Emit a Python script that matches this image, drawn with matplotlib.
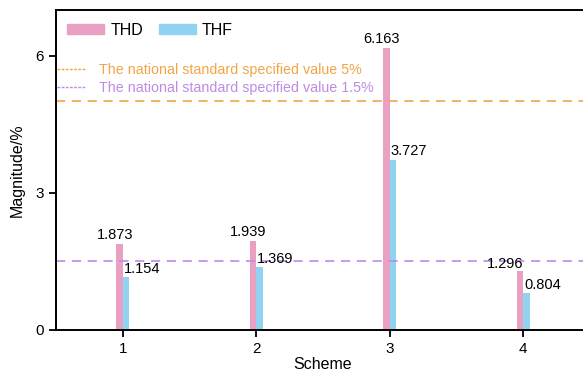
import matplotlib
matplotlib.use("Agg")
import matplotlib.pyplot as plt
import numpy as np
from matplotlib.patches import Patch
from matplotlib.lines import Line2D

plt.rcParams['font.family'] = ['Liberation Sans', 'DejaVu Sans']

schemes = [1, 2, 3, 4]
thd = [1.873, 1.939, 6.163, 1.296]
thf = [1.154, 1.369, 3.727, 0.804]
limit_thd = 5.0
limit_thf = 1.5

c_thd = '#E9A0C2'
c_thf = '#8FD3F0'
c_orange = '#F3A446'
c_purple = '#BE8CE3'

fig = plt.figure(figsize=(5.83, 3.72), dpi=100)
ax = fig.add_axes([0.096, 0.113, 0.916, 0.86])

x = np.array(schemes, dtype=float)
w = 0.05
ax.bar(x - w / 2, thd, width=w, color=c_thd)
ax.bar(x + w / 2, thf, width=w, color=c_thf)

ax.axhline(limit_thd, color=c_orange, ls=(0, (5.5, 4)), lw=1.2)
ax.axhline(limit_thf, color=c_purple, ls=(0, (5.5, 4)), lw=1.2)

# value labels
for i, (xi, v) in enumerate(zip(x, thd)):
    if i == 3:
        ax.text(xi, v, f'{v:.3f}', ha='right', va='bottom', fontsize=10.5)
    else:
        ax.text(xi - 0.06, v + 0.05, f'{v:.3f}', ha='center', va='bottom', fontsize=10.5)
for xi, v in zip(x, thf):
    ax.text(xi + 0.005, v + 0.03, f'{v:.3f}', ha='left', va='bottom', fontsize=10.5)

ax.set_xlim(0.5, 4.5)
ax.set_ylim(0, 7)
ax.set_xticks(schemes)
ax.set_yticks([0, 3, 6])
ax.tick_params(labelsize=11, width=1.3, length=5)
for s in ax.spines.values():
    s.set_linewidth(1.4)
ax.set_xlabel('Scheme', fontsize=11.5, labelpad=1)
ax.set_ylabel('Magnitude/%', fontsize=11.5, labelpad=8)

leg1 = ax.legend(handles=[Patch(color=c_thd, label='THD'), Patch(color=c_thf, label='THF')],
                 loc='upper left', ncol=2, frameon=False, fontsize=11.5,
                 handlelength=2.3, handleheight=0.6, handletextpad=0.4,
                 columnspacing=1.0, bbox_to_anchor=(0.0, 0.995), borderaxespad=0.3)
ax.add_artist(leg1)

ax.legend(handles=[Line2D([], [], color=c_orange, ls=(0, (2, 1)), lw=1,
                          label='The national standard specified value 5%'),
                   Line2D([], [], color=c_purple, ls=(0, (2, 1)), lw=1,
                          label='The national standard specified value 1.5%')],
          loc='upper left', frameon=False, fontsize=10.3, labelcolor='linecolor',
          handlelength=2.0, handletextpad=0.9, labelspacing=0.3,
          bbox_to_anchor=(-0.008, 0.853), borderaxespad=0.0)

fig.savefig('out.png', dpi=100)
